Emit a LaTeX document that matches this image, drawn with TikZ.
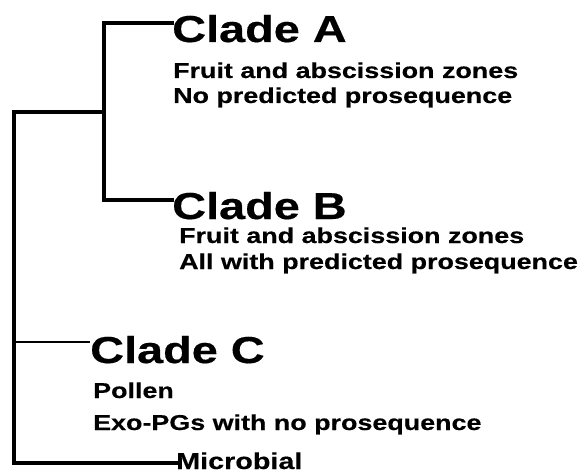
\documentclass[tikz,border=0pt]{standalone}
\usepackage{fontspec}
\newfontfamily\cladefont{Liberation Sans}[FakeStretch=1.25, FakeBold=0.4]
\usepackage{tikz}

\begin{document}
\begin{tikzpicture}[x=1pt, y=-1pt,
		every node/.style={inner sep=0pt, anchor=base west, font=\cladefont\bfseries},
		clade/.style={font=\cladefont\bfseries\fontsize{37.5}{40}\selectfont},
		info/.style={font=\cladefont\bfseries\fontsize{21.5}{25}\selectfont},
		outgroup/.style={font=\cladefont\bfseries\fontsize{23}{26}\selectfont},
		branch/.style={line width=3.5pt, line cap=rect},
		twig/.style={line width=2.5pt},
	]
	\useasboundingbox (0,0) rectangle (586,473);

	% tree nodes
	\node [clade] (cA) at (172,42) {Clade A};
	\node [info] (cA1) at (173,78) {Fruit and abscission zones};
	\node [info] (cA2) at (173,103) {No predicted prosequence};

	\node [clade] (cB) at (172,219) {Clade B};
	\node [info] (cB1) at (179,243) {Fruit and abscission zones};
	\node [info] (cB2) at (179,269) {All with predicted prosequence};

	\node [clade] (cC) at (90,363) {Clade C};
	\node [info] (cC1) at (93,398) {Pollen};
	\node [info] (cC2) at (93,430) {Exo-PGs with no prosequence};

	\node [outgroup] (mic) at (176,469) {Microbial};

	% joints
	\coordinate (ab) at (104,112);
	\coordinate (root) at (14,112);

	\draw [branch] ([yshift=19pt]cA.base west) -| (ab) |- ([yshift=19pt]cB.base west);
	\draw [branch] (ab) -- (root) |- ([yshift=6pt]mic.base west);
	\draw [twig] (root |- 0,342) -- ([yshift=21pt]cC.base west);
\end{tikzpicture}
\end{document}
